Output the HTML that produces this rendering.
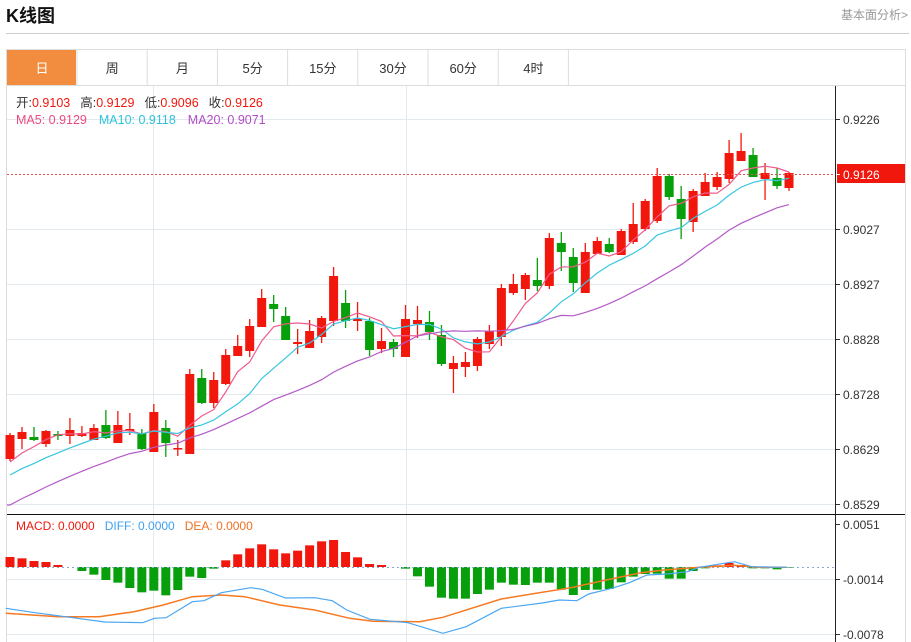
<!DOCTYPE html>
<html><head><meta charset="utf-8"><style>
body{margin:0;background:#fff;font-family:"Liberation Sans","Noto Sans CJK SC",sans-serif;}
#w{position:relative;width:911px;height:642px;overflow:hidden;}
.t{position:absolute;white-space:nowrap;}
</style></head><body><div id="w">
<div class="t" style="left:6px;top:2px;font-size:18px;font-weight:bold;color:#111;">K线图</div>
<div class="t" style="right:3px;top:6px;font-size:12px;color:#999;">基本面分析&gt;</div>
<div style="position:absolute;left:6px;top:33px;width:903px;height:1px;background:#ccc"></div>
<svg id="s" width="911" height="642" style="position:absolute;left:0;top:0" font-family="Liberation Sans, Noto Sans CJK SC, sans-serif"></svg>
</div>
<script>
const S=document.getElementById('s');let h='';
const L=(x1,y1,x2,y2,c,w,d)=>h+=`<line x1="${x1}" y1="${y1}" x2="${x2}" y2="${y2}" stroke="${c}" stroke-width="${w||1}" ${d?'stroke-dasharray="'+d+'"':''}/>`;
const T=(x,y,s,c,fs,a)=>h+=`<text x="${x}" y="${y}" fill="${c}" font-size="${fs||12}" ${a?'text-anchor="'+a+'"':''}>${s}</text>`;
// frame
h+=`<rect x="6.5" y="49.5" width="899" height="600" fill="none" stroke="#ddd"/>`;
h+=`<rect x="7" y="50" width="69" height="35" fill="#f28c3e"/>`;
const tabs=['日','周','月','5分','15分','30分','60分','4时'];
for(let i=0;i<8;i++){let x0=7+i*70.2;L(x0+70,50,x0+70,85,'#ddd');T(x0+35,73,tabs[i],i?'#333':'#fff',13,'middle');}
L(7,85.5,905,85.5,'#ddd');
// grid
const py=[119,229,284,339,394,449,504],pl=['0.9226','0.9027','0.8927','0.8828','0.8728','0.8629','0.8529'];
py.forEach((y,i)=>{L(7,y+.5,835,y+.5,'#e3eaef');L(835,y+.5,840,y+.5,'#333');T(843,y+5,pl[i],'#333',12);});
[153.5,406.5].forEach(x=>L(x,86,x,642,'#e3eaef'));
[579,634].forEach(y=>L(7,y+.5,835,y+.5,'#e3eaef'));
[[524,'0.0051'],[579,'-0.0014'],[634,'-0.0078']].forEach(a=>{L(835,a[0]+.5,840,a[0]+.5,'#333');T(843,a[0]+5,a[1],'#333',12);});
// candles [top,bottom,wickTop,wickBot,isRed]
const C=[[435,459,433,461,1],[432,439,427,449,1],[437,440,427,441,0],[431,444,430,447,1],[434,436,431,440,0],[430,436,418,444,1],[433,436,426,437,1],[428,440,424,440,1],[425,438,410,439,0],[425,443,411,443,1],[429,431,413,435,1],[433,449,429,450,0],[412,452,404,452,1],[428,443,420,457,0],[448,449,440,456,1],[374,454,369,454,1],[378,403,369,404,0],[380,403,372,408,1],[355,384,349,385,1],[346,356,335,356,1],[326,351,319,357,1],[298,327,289,327,1],[304,309,295,322,0],[316,340,307,340,0],[342,344,329,354,1],[331,348,320,348,1],[318,337,316,343,1],[276,321,267,326,1],[303,321,290,328,0],[319,321,302,331,1],[321,350,318,356,0],[341,349,328,353,1],[342,349,339,357,0],[319,357,305,357,1],[320,324,306,338,1],[322,332,311,340,0],[335,364,325,366,0],[363,369,356,393,1],[362,367,352,377,1],[339,366,337,371,1],[331,344,325,349,1],[288,337,284,346,1],[284,293,274,295,1],[275,289,273,300,1],[280,286,258,291,0],[238,286,233,289,1],[243,252,232,271,0],[257,283,248,292,0],[252,293,243,293,1],[241,254,237,254,1],[244,252,238,253,0],[231,255,229,255,1],[224,242,203,244,1],[201,229,199,231,1],[176,221,168,223,1],[176,197,174,200,0],[199,219,186,239,0],[191,222,189,232,1],[182,196,173,196,1],[177,187,172,190,1],[153,179,140,183,1],[151,161,133,161,1],[155,177,148,177,0],[173,179,163,200,1],[178,186,168,189,0],[173,188,172,191,1]];
const X=i=>10+i*11.985;
const cl=C.map(c=>c[4]?c[0]:c[1]);
const pre=[560,554,549,543,538,532,527,521,516,510,496,492,488,484,480,477,472,466,460];
const all=pre.concat(cl);
function ma(n,col){let p=[];for(let i=0;i<C.length;i++){let s=0;for(let k=0;k<n;k++)s+=all[i+19-k];p.push(X(i).toFixed(1)+','+(s/n).toFixed(1));}
let pts=p;if(n==20)pts=['7,505'].concat(p);h+=`<polyline points="${pts.join(' ')}" fill="none" stroke="${col}" stroke-width="1.2"/>`;}
C.forEach((c,i)=>{const x=X(i),col=c[4]?'#f2170c':'#079f0c';L(x,c[2],x,c[3],col,1.3);h+=`<rect x="${x-4.5}" y="${c[0]}" width="9" height="${Math.max(1.5,c[1]-c[0])}" fill="${col}"/>`;});
ma(5,'#ef5a8c');ma(10,'#38c6e0');ma(20,'#b45ac8');
L(7,174.5,835,174.5,'#e05050',1,'2,2');
h+=`<rect x="837" y="164" width="68" height="19" fill="#f2170c"/>`;L(835,174.5,840,174.5,'#fff');T(843,179,'0.9126','#fff',12);
// info text
h+=`<text x="16" y="107" font-size="12.5"><tspan fill="#333">开:</tspan><tspan fill="#f2170c">0.9103</tspan><tspan fill="#333" dx="10">高:</tspan><tspan fill="#f2170c">0.9129</tspan><tspan fill="#333" dx="10">低:</tspan><tspan fill="#f2170c">0.9096</tspan><tspan fill="#333" dx="10">收:</tspan><tspan fill="#f2170c">0.9126</tspan></text>`;
h+=`<text x="16" y="124" font-size="12.5"><tspan fill="#ef4a82">MA5: 0.9129</tspan><tspan fill="#2ec3dd" dx="12">MA10: 0.9118</tspan><tspan fill="#b04cc6" dx="12">MA20: 0.9071</tspan></text>`;
// MACD
L(7,514.5,905,514.5,'#111');
h+=`<text x="16" y="530" font-size="12"><tspan fill="#f2170c">MACD: 0.0000</tspan><tspan fill="#3fa0f0" dx="10">DIFF: 0.0000</tspan><tspan fill="#f07020" dx="10">DEA: 0.0000</tspan></text>`;
const Z=567;
const B=[171,175,183,186,195,202,213,224,240,248,264,277,272,286,270,230,234,206,181,163,145,133,148,160,152,136,124,120,156,172,192,195,201,206,229,260,293,296,296,282,269,248,254,255,248,248,269,285,270,269,267,247,230,222,221,236,236,213,205,196,189,195,205,205,208,203];
B.forEach((b,i)=>{const y=500+b/3,x=X(i);if(Math.abs(y-Z)<.5)return;h+=`<rect x="${x-4.5}" y="${Math.min(y,Z)}" width="9" height="${Math.abs(y-Z)}" fill="${y<Z?'#f2170c':'#079f0c'}"/>`;});
L(7,Z+.5,835,Z+.5,'#8ac',1,'2,3');
const cv=a=>a.map(p=>(p[0]/1.716).toFixed(1)+','+(500+p[1]/3).toFixed(1)).join(' ');
const D=[[10,325],[60,338],[120,352],[180,366],[245,368],[265,355],[285,353],[330,305],[350,302],[380,278],[430,263],[450,268],[490,294],[540,293],[570,302],[595,330],[635,358],[700,368],[760,400],[800,380],[860,325],[900,316],[930,309],[960,300],[990,302],[1010,282],[1050,265],[1080,248],[1110,225],[1145,222],[1180,215],[1200,202],[1260,185],[1290,200],[1350,202]];
const E=[[10,340],[100,350],[170,350],[230,335],[280,315],[330,290],[380,285],[420,290],[480,315],[540,330],[600,355],[640,364],[720,365],[760,352],[860,297],[920,280],[980,263],[1040,240],[1100,218],[1140,210],[1200,202],[1260,196],[1300,202],[1350,202]];
h+=`<polyline points="${cv(E)}" fill="none" stroke="#f57a22" stroke-width="1.5"/>`;
h+=`<polyline points="${cv(D)}" fill="none" stroke="#4aa6f2" stroke-width="1.2"/>`;
L(835.5,86,835.5,642,'#222');
S.innerHTML=h;
</script></body></html>
